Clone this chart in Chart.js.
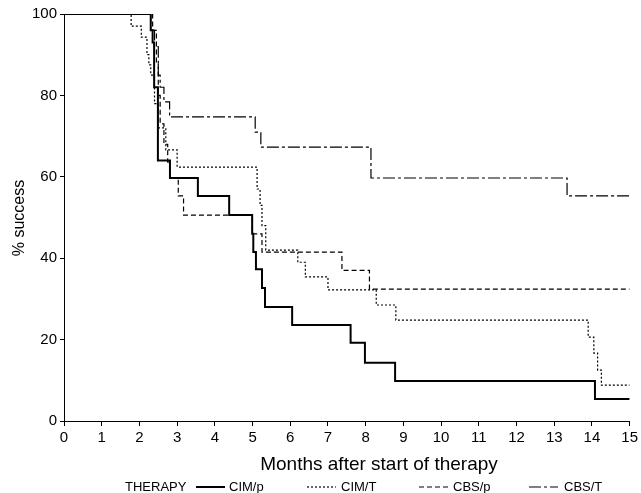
<!DOCTYPE html>
<html>
<head>
<meta charset="utf-8">
<script src="https://cdn.jsdelivr.net/npm/chart.js@4/dist/chart.umd.min.js"></script>
<style>
  html, body { margin: 0; padding: 0; background: #fff; }
  #wrap { width: 641px; height: 493px; position: relative; }
</style>
</head>
<body>
<div id="wrap"><canvas id="c"></canvas></div>
<script>
// ---- data ----
const seriesNames = ['CIM/p', 'CIM/T', 'CBS/p', 'CBS/T'];
const xTicks = [0,1,2,3,4,5,6,7,8,9,10,11,12,13,14,15];
const yTicks = [0,20,40,60,80,100];

const cimP_months  = [0, 2.3, 2.35, 2.39, 2.49, 2.81, 3.55, 4.38, 4.99, 5.02, 5.09, 5.25, 5.33, 6.05, 7.6, 7.98, 8.78, 14.08, 15];
const cimP_success = [100, 96, 93, 82, 64, 59.7, 55.3, 50.6, 46, 41.5, 37.3, 32.7, 28, 23.6, 19.2, 14.3, 9.8, 5.4, 5.4];

const cimT_months  = [0, 1.78, 2.05, 2.2, 2.25, 2.3, 2.4, 2.5, 2.7, 3.0, 5.12, 5.2, 5.25, 5.35, 6.2, 6.4, 7.0, 8.28, 8.8, 13.9, 14.05, 14.15, 14.25, 15];
const cimT_success = [100, 97, 94.3, 90, 87.5, 85, 78, 72, 66.6, 62.4, 57, 53, 48, 42, 39, 35.4, 32.2, 28.5, 24.8, 20.6, 16.7, 12.5, 8.8, 8.8];

const cbsP_months  = [0, 2.35, 2.45, 2.5, 2.55, 2.65, 2.75, 2.8, 3.03, 3.17, 4.99, 5.25, 7.37, 8.1, 15];
const cbsP_success = [100, 96, 88, 80, 73, 68, 63.6, 59.7, 55.3, 50.6, 46, 41.5, 37, 32.4, 32.4];

const cbsT_months  = [0, 2.3, 2.4, 2.5, 2.55, 2.65, 2.8, 5.07, 5.22, 8.14, 13.34, 15];
const cbsT_success = [100, 96, 92, 85, 82, 78.4, 74.7, 71, 67.3, 59.7, 55.3, 55.3];

// ---- styles ----
const FONT = '"Liberation Sans", Arial, Helvetica, sans-serif';
const styles = [
  { borderWidth: 2,   borderDash: [] },
  { borderWidth: 1.2, borderDash: [2, 2] },
  { borderWidth: 1.2, borderDash: [5, 3] },
  { borderWidth: 1.2, borderDash: [12, 3, 3, 3] }
];

function pairs(xs, ys) { return xs.map((x, i) => ({ x: x, y: ys[i] })); }
const allX = [cimP_months, cimT_months, cbsP_months, cbsT_months];
const allY = [cimP_success, cimT_success, cbsP_success, cbsT_success];

const datasets = seriesNames.map((name, i) => ({
  label: name,
  data: pairs(allX[i], allY[i]),
  stepped: 'before',
  borderColor: '#000',
  backgroundColor: '#000',
  borderWidth: styles[i].borderWidth,
  borderDash: styles[i].borderDash,
  pointRadius: 0,
  fill: false,
  tension: 0
}));

const textPlugin = {
  id: 'textPlugin',
  afterDraw(chart) {
    const ctx = chart.ctx;
    ctx.save();
    ctx.fillStyle = '#000';
    ctx.strokeStyle = '#000';
    // x-axis title
    ctx.font = '19px ' + FONT;
    ctx.textAlign = 'center';
    ctx.textBaseline = 'middle';
    ctx.fillText('Months after start of therapy', 379, 465);
    // y-axis title
    ctx.save();
    ctx.translate(20, 218);
    ctx.rotate(-Math.PI / 2);
    ctx.font = '16px ' + FONT;
    ctx.fillText('% success', 0, 0);
    ctx.restore();
    // legend
    ctx.font = '13px ' + FONT;
    ctx.textAlign = 'left';
    const ly = 487;
    ctx.fillText('THERAPY', 125, ly);
    const items = [
      { lx: 196, tx: 229 },
      { lx: 307, tx: 341 },
      { lx: 419, tx: 453 },
      { lx: 529, tx: 564 }
    ];
    items.forEach((it, i) => {
      ctx.beginPath();
      ctx.lineWidth = styles[i].borderWidth;
      ctx.setLineDash(styles[i].borderDash);
      ctx.moveTo(it.lx, ly);
      ctx.lineTo(it.lx + 29, ly);
      ctx.stroke();
      ctx.setLineDash([]);
      ctx.fillText(seriesNames[i], it.tx, ly);
    });
    ctx.restore();
  }
};

new Chart(document.getElementById('c'), {
  type: 'line',
  data: { datasets: datasets },
  options: {
    responsive: true,
    maintainAspectRatio: false,
    devicePixelRatio: 1,
    animation: false,
    layout: { padding: { top: 14, right: 10, left: 0, bottom: 0 } },
    plugins: { legend: { display: false }, tooltip: { enabled: false } },
    scales: {
      x: {
        type: 'linear',
        min: 0, max: 15,
        afterFit(s) { s.height = 72; },
        afterBuildTicks(s) { s.ticks = xTicks.map(v => ({ value: v })); },
        ticks: { color: '#000', font: { family: FONT, size: 15 }, padding: 3, maxRotation: 0, autoSkip: false },
        grid: { drawOnChartArea: false, drawTicks: true, tickLength: 5, color: '#000' },
        border: { display: true, color: '#000', width: 1 }
      },
      y: {
        min: 0, max: 100,
        afterFit(s) { s.width = 64; },
        afterBuildTicks(s) { s.ticks = yTicks.map(v => ({ value: v })); },
        ticks: { color: '#000', font: { family: FONT, size: 15 }, padding: 3 },
        grid: { drawOnChartArea: false, drawTicks: true, tickLength: 4, color: '#000' },
        border: { display: true, color: '#000', width: 1 }
      }
    }
  },
  plugins: [textPlugin]
});
</script>
</body>
</html>
